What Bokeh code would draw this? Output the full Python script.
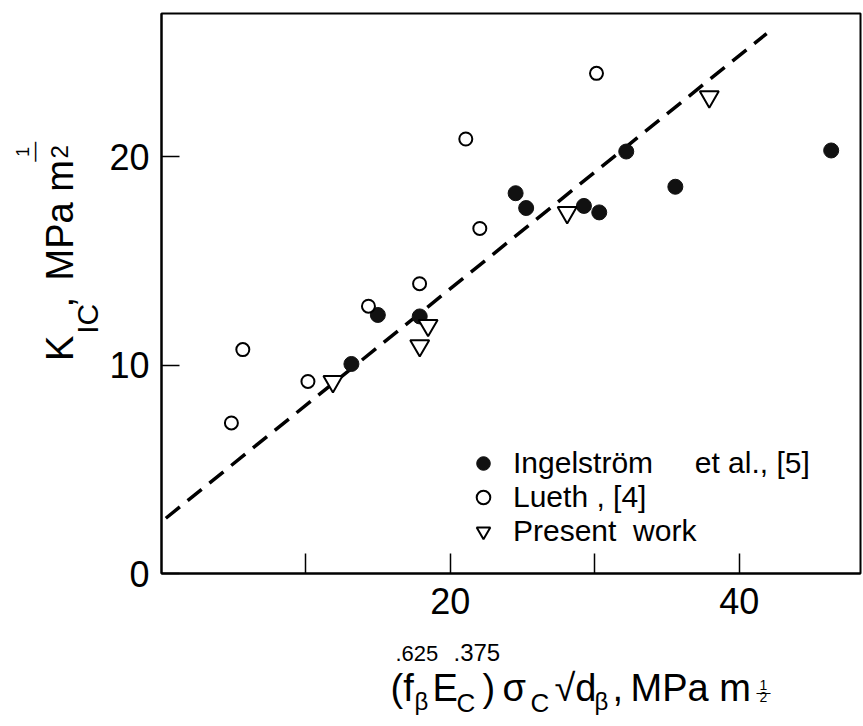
import math
from bokeh.plotting import figure
from bokeh.models import (Range1d, FixedTicker, Label, Legend, LegendItem)
from bokeh.layouts import row, column
from bokeh.embed import file_html
from bokeh.resources import INLINE

# ---- data ----
ingel_x = [13.15, 14.98, 17.88, 24.52, 25.25, 29.25, 30.31, 32.18, 35.58, 46.37]
ingel_y = [10.05, 12.40, 12.33, 18.24, 17.53, 17.63, 17.32, 20.24, 18.55, 20.29]

lueth_x = [4.84, 5.63, 10.14, 14.33, 17.87, 22.04, 21.07, 30.12]
lueth_y = [7.22, 10.74, 9.21, 12.82, 13.90, 16.55, 20.84, 23.99]

present_x = [11.87, 17.88, 18.46, 28.09, 37.93]
present_y = [9.21, 10.93, 11.90, 17.31, 22.87]

fit_x = [0.3, 41.9]
fit_y = [2.65, 25.9]

x_ticks = [10, 20, 30, 40]
x_tick_labels = {10: "", 20: "20", 30: "", 40: "40"}
y_ticks = [0, 10, 20]

legend_labels = ["Ingelstr\u00f6m\u00a0\u00a0\u00a0\u00a0\u00a0et\u00a0al.,\u00a0[5]",
                 "Lueth\u00a0,\u00a0[4]",
                 "Present\u00a0\u00a0work"]

# ---- layout (page px) ----
TOTAL_W = 862
LEFT_W = 106                 # strip for the y title
MAIN_W = TOTAL_W - LEFT_W
MAIN_H = 640
BOTTOM_H = 84                # strip for the x title
FRAME_L, FRAME_R, FRAME_T, FRAME_B = 160, 860, 13, 573
XMAX, YMAX = 48.4, 26.86
FONT = "Liberation Sans"

p = figure(width=MAIN_W, height=MAIN_H, output_backend="svg", toolbar_location=None,
           x_range=Range1d(0, XMAX), y_range=Range1d(0, YMAX),
           min_border_left=FRAME_L - LEFT_W, min_border_right=TOTAL_W - FRAME_R,
           min_border_top=FRAME_T, min_border_bottom=MAIN_H - FRAME_B)
p.grid.visible = False
p.background_fill_color = "white"
p.border_fill_color = "white"
p.outline_line_color = "black"
p.outline_line_width = 2

for ax in (p.xaxis[0], p.yaxis[0]):
    ax.axis_line_width = 2
    ax.axis_line_color = "black"
    ax.major_tick_line_width = 1.5
    ax.major_tick_out = 0
    ax.minor_tick_in = 0
    ax.minor_tick_out = 0
    ax.major_label_text_font = FONT
    ax.major_label_text_font_size = "36px"
    ax.major_label_text_color = "black"

p.xaxis.ticker = FixedTicker(ticks=x_ticks)
p.xaxis.major_label_overrides = x_tick_labels
p.xaxis.major_tick_in = 20
p.xaxis.major_label_standoff = 14
p.yaxis.ticker = FixedTicker(ticks=y_ticks)
p.yaxis.major_tick_in = 18
p.yaxis.major_label_standoff = 12

# ---- marks ----
p.line(fit_x, fit_y, line_color="black", line_width=3.5, line_dash="18 10")
r_ing = p.scatter(ingel_x, ingel_y, marker="circle", size=15,
                  fill_color="#111111", line_color="#111111")
r_lue = p.scatter(lueth_x, lueth_y, marker="circle", size=13,
                  fill_color="white", line_color="black", line_width=2)
r_pre = p.scatter(present_x, present_y, marker="inverted_triangle", size=19,
                  fill_color="white", line_color="black", line_width=2)

legend = Legend(items=[LegendItem(label=legend_labels[0], renderers=[r_ing]),
                       LegendItem(label=legend_labels[1], renderers=[r_lue]),
                       LegendItem(label=legend_labels[2], renderers=[r_pre])],
                location=(305, 25), orientation="vertical",
                border_line_alpha=0, background_fill_alpha=0,
                label_text_font=FONT, label_text_font_size="30px",
                label_text_color="black",
                glyph_width=34, glyph_height=34, label_height=34,
                label_standoff=13, spacing=0, padding=0, margin=0)
p.add_layout(legend)


# ---- strips for the axis titles (data units == local pixels, y downward) ----
def strip(w, h):
    f = figure(width=w, height=h, output_backend="svg", toolbar_location=None,
               x_range=Range1d(0, w), y_range=Range1d(h, 0),
               x_axis_type=None, y_axis_type=None, min_border=0)
    f.grid.visible = False
    f.outline_line_color = None
    f.background_fill_color = "white"
    f.border_fill_color = "white"
    return f


SHIFT = 0.34   # measured offset of the rendered alphabetic baseline (em)


def lab(f, text, x, y, size, align="left", rotated=False):
    """x, y: wanted baseline point (local px). Rotated text reads upward."""
    if rotated:
        x = x - SHIFT * size
    else:
        y = y - SHIFT * size
    f.add_layout(Label(x=x, y=y, text=text, text_font=FONT,
                       text_font_size=f"{size}px", text_color="black",
                       text_align=align, text_baseline="alphabetic",
                       angle=math.pi / 2 if rotated else 0.0))


left = strip(LEFT_W, MAIN_H)
# y title: K_IC, MPa m^(1/2)
lab(left, "K", 72, 397, 38, rotated=True)
lab(left, "IC", 97, 366, 30, rotated=True)
lab(left, ",", 72, 336, 38, rotated=True)
lab(left, "MPa m", 72, 305, 38, rotated=True)
lab(left, "1", 28, 158, 18, align="center", rotated=True)
lab(left, "\u2014", 40, 158, 20, align="center", rotated=True)
lab(left, "2", 67, 158, 24, align="center", rotated=True)

bottom = strip(TOTAL_W, BOTTOM_H)
Y0 = MAIN_H
# x title: (f_b E_c)^.625 s_c^.375 sqrt(d_b), MPa m^(1/2)
lab(bottom, ".625", 395, 660 - Y0, 22)
lab(bottom, ".375", 453, 660 - Y0, 24)
lab(bottom, "(f", 390, 700 - Y0, 38)
lab(bottom, "\u03b2", 414, 709 - Y0, 24)
lab(bottom, "E", 432, 700 - Y0, 38)
lab(bottom, "C", 456, 711 - Y0, 26)
lab(bottom, ")", 482, 700 - Y0, 38)
lab(bottom, "\u03c3", 502, 700 - Y0, 38)
lab(bottom, "C", 530, 711 - Y0, 26)
lab(bottom, "\u221ad", 554, 700 - Y0, 38)
lab(bottom, "\u03b2", 594, 709 - Y0, 24)
lab(bottom, ",", 612, 700 - Y0, 38)
lab(bottom, "MPa m", 630, 700 - Y0, 38)
lab(bottom, "1", 763, 689 - Y0, 14, align="center")
lab(bottom, "\u2014", 763, 696 - Y0, 14, align="center")
lab(bottom, "2", 763, 701 - Y0, 14, align="center")

layout = column(row(left, p), bottom)
open("out.html", "w").write(file_html(layout, INLINE))
